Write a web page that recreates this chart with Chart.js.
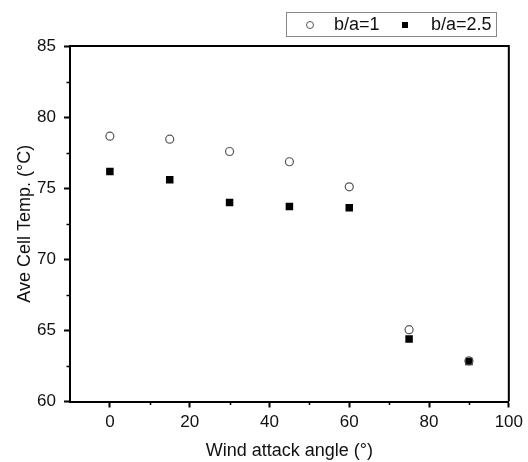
<!DOCTYPE html>
<html>
<head>
<meta charset="utf-8">
<script src="https://cdn.jsdelivr.net/npm/chart.js@4/dist/chart.umd.min.js"></script>
<style>
  html, body { margin: 0; padding: 0; background: #fff; }
  #wrap { width: 528px; height: 462px; position: relative; }
</style>
</head>
<body>
<div id="wrap"><canvas id="tempChart"></canvas></div>
<script>
// values
const angles = [0, 15, 30, 45, 60, 75, 90];
const tempRatio1 = [78.66, 78.45, 77.58, 76.86, 75.1, 65.05, 62.85];
const tempRatio25 = [76.18, 75.59, 73.99, 73.71, 73.62, 64.39, 62.82];
const seriesLabels = ['b/a=1', 'b/a=2.5'];

const xMajorTicks = [0, 20, 40, 60, 80, 100];
const xMinorTicks = [10, 30, 50, 70, 90];
const yMajorTicks = [60, 65, 70, 75, 80, 85];
const yMinorTicks = [62.5, 67.5, 72.5, 77.5, 82.5];

const FONT = 'Liberation Sans, Arial, sans-serif';

// frame on top/right, minor ticks, boxed legend
const framePlugin = {
  id: 'frame',
  afterDraw(chart) {
    const { ctx, chartArea: a, scales } = chart;
    ctx.save();
    ctx.strokeStyle = '#000';
    ctx.lineWidth = 2;
    ctx.beginPath();
    ctx.moveTo(a.left, a.top);
    ctx.lineTo(a.right, a.top);
    ctx.lineTo(a.right, a.bottom);
    ctx.stroke();

    ctx.lineWidth = 1.5;
    ctx.beginPath();
    xMinorTicks.forEach(v => {
      const px = Math.round(scales.x.getPixelForValue(v)) + 0.5;
      ctx.moveTo(px, a.bottom);
      ctx.lineTo(px, a.bottom + 3.5);
    });
    yMinorTicks.forEach(v => {
      const py = Math.round(scales.y.getPixelForValue(v)) + 0.5;
      ctx.moveTo(a.left, py);
      ctx.lineTo(a.left - 3.5, py);
    });
    ctx.stroke();

    // legend
    ctx.strokeStyle = '#888';
    ctx.lineWidth = 1;
    ctx.strokeRect(286.5, 12.5, 210, 24);
    ctx.font = '18px ' + FONT;
    ctx.fillStyle = '#111';
    ctx.textBaseline = 'middle';
    ctx.textAlign = 'left';
    ctx.strokeStyle = '#555';
    ctx.lineWidth = 1;
    ctx.beginPath();
    ctx.arc(310, 25, 3.5, 0, Math.PI * 2);
    ctx.stroke();
    ctx.fillText(chart.data.datasets[0].label, 334, 25);
    ctx.fillStyle = '#000';
    ctx.fillRect(402, 22, 6, 6);
    ctx.fillStyle = '#111';
    ctx.fillText(chart.data.datasets[1].label, 431, 25);
    ctx.restore();
  }
};

new Chart(document.getElementById('tempChart'), {
  type: 'scatter',
  data: {
    datasets: [
      {
        label: seriesLabels[0],
        data: angles.map((a, i) => ({ x: a, y: tempRatio1[i] })),
        pointStyle: 'circle',
        pointRadius: 4,
        borderColor: '#555',
        borderWidth: 1.2,
        backgroundColor: 'rgba(255,255,255,0)'
      },
      {
        label: seriesLabels[1],
        data: angles.map((a, i) => ({ x: a, y: tempRatio25[i] })),
        pointStyle: 'rect',
        pointRadius: 5.3,
        borderColor: '#000',
        borderWidth: 0,
        backgroundColor: '#000'
      }
    ]
  },
  options: {
    responsive: true,
    maintainAspectRatio: false,
    animation: false,
    layout: { padding: { top: 46, right: 19, left: 0, bottom: 0 } },
    plugins: { legend: { display: false }, tooltip: { enabled: false } },
    scales: {
      x: {
        type: 'linear',
        min: -10,
        max: 100,
        afterBuildTicks: s => { s.ticks = xMajorTicks.map(v => ({ value: v })); },
        afterFit: s => { s.height = 60.5; },
        border: { display: true, color: '#000', width: 2 },
        grid: { display: true, drawOnChartArea: false, drawTicks: true, tickLength: 6, tickWidth: 2, tickColor: '#000' },
        ticks: { color: '#111', font: { family: FONT, size: 17 }, padding: 5, maxRotation: 0 },
        title: { display: true, text: 'Wind attack angle (°)', color: '#111', font: { family: FONT, size: 18 }, padding: { top: 0, bottom: 0 } }
      },
      y: {
        type: 'linear',
        min: 60,
        max: 85,
        afterBuildTicks: s => { s.ticks = yMajorTicks.map(v => ({ value: v })); },
        afterFit: s => { s.width = 70; },
        border: { display: true, color: '#000', width: 2 },
        grid: { display: true, drawOnChartArea: false, drawTicks: true, tickLength: 6, tickWidth: 2, tickColor: '#000' },
        ticks: { color: '#111', font: { family: FONT, size: 17 }, padding: 8 },
        title: { display: true, text: 'Ave Cell Temp. (°C)', color: '#111', font: { family: FONT, size: 18 }, padding: { top: 14, bottom: 0 } }
      }
    }
  },
  plugins: [framePlugin]
});
</script>
</body>
</html>
